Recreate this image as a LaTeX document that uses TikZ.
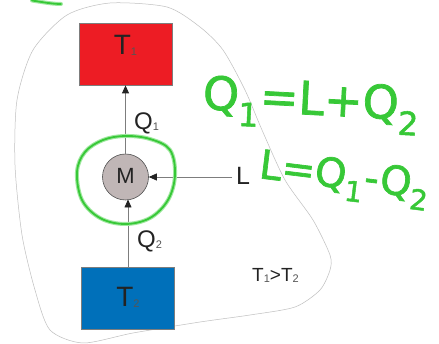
\documentclass[tikz,border=0pt]{standalone}
\usepackage{fontspec}
\setmainfont{Liberation Sans}
\newfontfamily\hand[FakeBold=1.6]{DejaVu Sans}
\usetikzlibrary{arrows.meta}
\definecolor{boxred}{RGB}{237,28,36}
\definecolor{boxblue}{RGB}{0,112,186}
\definecolor{mgray}{RGB}{192,182,182}
\definecolor{txtgray}{RGB}{35,35,35}
\definecolor{subgray}{RGB}{85,85,85}
\definecolor{linegray}{RGB}{125,125,125}
\definecolor{glow}{RGB}{160,232,160}
\definecolor{pen}{RGB}{55,200,55}
\tikzset{
  reservoir/.style={draw=linegray, line width=0.8pt, minimum width=93pt, minimum height=62pt, inner sep=0pt},
  engine/.style={circle, draw=txtgray!80, fill=mgray, line width=0.6pt, minimum size=46pt, inner sep=0pt},
  flow/.style={draw=linegray, line width=0.8pt, -{Triangle[length=8pt,width=7pt,color=txtgray]}},
  lbl/.style={text=txtgray, inner sep=0pt},
  penglow/.style={glow, line width=4pt, line cap=round, line join=round},
  penline/.style={pen, line width=1.8pt, line cap=round, line join=round},
  hw/.style={anchor=base west, text=pen, inner sep=0pt},
}
\newcommand{\sbt}[1]{{\fontsize{11}{11}\selectfont\color{subgray}\raisebox{-1pt}{#1}}}
\begin{document}
\begin{tikzpicture}[x=1pt,y=-1pt]
\useasboundingbox (0,0) rectangle (439,344);
\fill[white] (0,0) rectangle (439,344);
% blob outline
\draw[gray!50, line width=0.5pt] plot[smooth cycle, tension=0.45] coordinates {
 (167,7) (200,27) (223,50) (245,90) (262,130) (285,180) (313,220) (330,255)
 (330,270) (320,290) (295,307) (250,315) (200,322) (133,333) (83,343)
 (50,330) (35,290) (22,235) (15,165) (17,100) (33,50) (67,15) (110,3)};
% reservoirs
\node[reservoir, fill=boxred] (hot) at (125.5,54) {};
\node[lbl, anchor=base, font=\fontsize{28}{28}\selectfont] (hotlbl) at (125.5,55) {T\sbt{1}};
\node[reservoir, fill=boxblue] (cold) at (128,298) {};
\node[lbl, anchor=base, font=\fontsize{28}{28}\selectfont] (coldlbl) at (128,307) {T\sbt{2}};
% engine
\node[engine] (M) at (125.5,177) {};
\node[lbl, anchor=base, font=\fontsize{22}{22}\selectfont] (Mlbl) at (125.5,184) {M};
% flows
\draw[flow] (M.north) -- (hot.south);
\draw[flow] (cold.north -| 128,0) -- (128,199.5);
\coordinate (Lstart) at (232,177);
\draw[flow] (Lstart) -- (M.east);
\node[lbl, anchor=base west, font=\fontsize{25}{25}\selectfont] (L) at (236,185) {L};
\node[lbl, anchor=base west, font=\fontsize{24}{24}\selectfont] (Q1) at (134,130) {Q\sbt{1}};
\node[lbl, anchor=base west, font=\fontsize{24}{24}\selectfont] (Q2) at (137,248) {Q\sbt{2}};
\node[lbl, anchor=base west, font=\fontsize{19}{19}\selectfont] (cmp) at (252,282) {T\sbt{1}>T\sbt{2}};
% green handwriting
\foreach \st in {penglow,penline}{
  \draw[\st] plot[smooth cycle, tension=0.6] coordinates {
   (125,136) (150,139) (170,150) (175,175) (168,200) (150,218) (125,224)
   (100,218) (82,200) (77,172) (85,152) (103,140)};
  \draw[\st] (32,0.5) .. controls (42,2) and (52,4) .. (61,4);
}
\node[hw, rotate=-3, font=\hand\fontsize{46}{46}\selectfont] (eq1) at (202,109) {Q\textsubscript{1}=L+Q\textsubscript{2}};
\node[hw, rotate=-7, font=\hand\fontsize{40}{40}\selectfont] (eq2) at (258,178) {L=Q\textsubscript{1}-Q\textsubscript{2}};
\end{tikzpicture}
\end{document}
